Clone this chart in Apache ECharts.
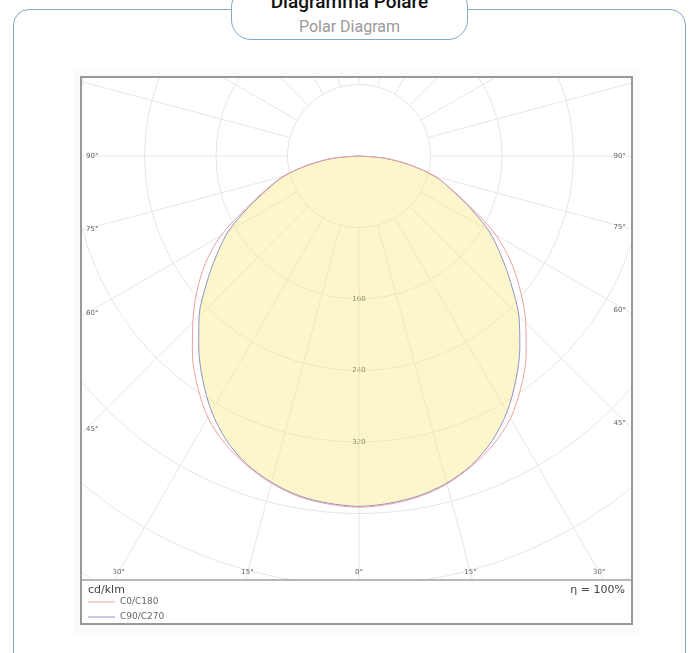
<!DOCTYPE html>
<html>
<head>
<meta charset="utf-8">
<title>Diagramma Polare</title>
<script src="https://cdn.jsdelivr.net/npm/echarts@6.0.0/dist/echarts.min.js"></script>
<style>
    html, body { margin: 0; padding: 0; background: #fff; }
    body { width: 698px; height: 653px; position: relative; overflow: hidden; font-family: Roboto, "Open Sans", sans-serif; }
    .card { position: absolute; left: 13px; top: 9px; width: 673px; height: 720px; border: 1.5px solid #84a9cb; border-radius: 16px; box-sizing: border-box; }
    .tab { position: absolute; left: 231px; top: -13px; width: 237px; height: 53px; border: 1.5px solid #84a9cb; border-radius: 20px; background: #fff; box-sizing: border-box; }
    .t1 { position: absolute; left: 231px; width: 237px; top: -8px; text-align: center; font-size: 19px; line-height: 19px; font-weight: 500; color: #111; }
    .t2 { position: absolute; left: 231px; width: 237px; top: 19px; text-align: center; font-size: 16px; line-height: 16px; color: #9a9a9a; }
    .halo { position: absolute; left: 74px; top: 68px; width: 566px; height: 566px; background: #fbfbfb; }
    .frame { position: absolute; left: 80px; top: 76px; width: 553px; height: 549px; border: 2px solid #999; box-sizing: border-box; background: #fff; }
    #polar { width: 549px; height: 545px; }
</style>
</head>
<body>
<div class="card"></div>
<div class="tab"></div>
<div class="t1">Diagramma Polare</div>
<div class="t2">Polar Diagram</div>
<div class="halo"></div>
<div class="frame"><div id="polar"></div></div>

<script>
const gammaAngles = [0, 5, 10, 15, 20, 25, 30, 35, 40, 45, 50, 55, 60, 65, 70, 75, 80, 85, 90];
const c0   = [393, 391, 387, 380, 369, 356, 339, 316, 291, 264, 236, 208, 177, 140, 111, 88, 58, 29, 0];
const c180 = [393, 391, 387, 379, 368, 355, 338, 315, 290, 263, 237, 210, 179, 140, 111, 88, 58, 29, 0];
const c90  = [392, 390, 386, 379, 368, 352, 331, 306, 280, 253, 222, 194, 168, 137, 110, 88, 58, 29, 0];
const c270 = [392, 390, 386, 378, 367, 351, 330, 305, 279, 253, 223, 195, 169, 137, 109, 87, 57, 29, 0];

const rayAngles = [0, 15, 30, 45, 60, 75, 90, 105, 120, 135, 150, 165, 180, 195, 210, 225, 240, 255, 270, 285, 300, 315, 330, 345];
const radiusLabels = [160, 240, 320];
const angleLabels = [0, 15, 30, 45, 60, 75, 90];

const seriesNames = ['C0/C180', 'C90/C270'];
const seriesColors = ['#eaa2a2', '#8e93c6'];

// semipiano sinistro (360 - gamma) + semipiano destro (gamma)
function buildCurve(left, right) {
    let out = [];
    for (let i = gammaAngles.length - 1; i > 0; i--) {
        out.push([left[i], 360 - gammaAngles[i]]);
    }
    for (let i = 0; i < gammaAngles.length; i++) {
        out.push([right[i], gammaAngles[i]]);
    }
    return out;
}

function renderRay(params, api) {
    let a = api.value(1);
    let p1 = api.coord([80, a]);
    let p2 = api.coord([640, a]);
    return {
        type: 'line',
        shape: { x1: p1[0], y1: p1[1], x2: p2[0], y2: p2[1] },
        style: { stroke: '#e6e6e6', lineWidth: 1 }
    };
}

// etichette degli angoli sul bordo del riquadro
function renderAngleLabel(params, api) {
    let a = api.value(1);
    let c = api.coord([0, a]);
    let p = api.coord([400, a]);
    let dx = p[0] - c[0], dy = p[1] - c[1];
    let len = Math.sqrt(dx * dx + dy * dy);
    dx /= len; dy /= len;

    let xMin = 4, xMax = api.getWidth() - 5, yMax = 494;
    let t = Infinity, align = 'center';
    if (dx < -1e-6) { let tx = (xMin - c[0]) / dx; if (tx < t) { t = tx; align = 'left'; } }
    if (dx > 1e-6)  { let tx = (xMax - c[0]) / dx; if (tx < t) { t = tx; align = 'right'; } }
    if (dy > 1e-6)  { let ty = (yMax - c[1]) / dy; if (ty < t) { t = ty; align = 'center'; } }

    return {
        type: 'text',
        x: c[0] + dx * t,
        y: c[1] + dy * t,
        style: {
            text: api.value(2) + '°',
            align: align,
            verticalAlign: 'middle',
            fontSize: 7,
            fontFamily: 'DejaVu Sans',
            fill: '#666'
        }
    };
}

document.addEventListener("DOMContentLoaded", function () {

    let el = document.getElementById('polar');
    let chart = echarts.init(el);

    let labelData = [];
    angleLabels.forEach(g => {
        labelData.push([0, g, g]);
        if (g !== 0) labelData.push([0, 360 - g, g]);
    });

    chart.setOption({
        animation: false,
        polar: { center: [277, 78], radius: 572 },
        angleAxis: {
            type: 'value', min: 0, max: 360, startAngle: 270, clockwise: false,
            axisLine: { show: false }, axisTick: { show: false },
            axisLabel: { show: false }, splitLine: { show: false }
        },
        radiusAxis: {
            type: 'value', min: 0, max: 640, interval: 80,
            axisLine: { show: false }, axisTick: { show: false },
            splitLine: { show: true, lineStyle: { color: '#e6e6e6', width: 1 } },
            axisLabel: {
                formatter: v => radiusLabels.includes(v) ? String(v) : '',
                margin: 0, align: 'center', verticalAlign: 'middle',
                fontSize: 7, fontFamily: 'DejaVu Sans', color: '#444'
            }
        },
        legend: {
            orient: 'vertical', left: 6, top: 519, bottom: 0, z: 110, padding: 0,
            icon: 'rect', itemWidth: 27, itemHeight: 1, itemGap: 5,
            textStyle: { fontSize: 9, lineHeight: 10, color: '#666', fontFamily: 'DejaVu Sans' },
            data: seriesNames
        },
        graphic: {
            elements: [
                { type: 'rect', z: 100, shape: { x: 0, y: 502, width: 549, height: 43 }, style: { fill: '#fff' } },
                { type: 'line', z: 101, shape: { x1: 0, y1: 502, x2: 549, y2: 502 }, style: { stroke: '#a0a0a0', lineWidth: 1.5 } },
                { type: 'text', z: 101, x: 6, y: 512, style: { text: 'cd/klm', fontSize: 11, fontFamily: 'DejaVu Sans', fill: '#444', verticalAlign: 'middle' } },
                { type: 'text', z: 101, x: 543, y: 512, style: { text: 'η = 100%', fontSize: 11, fontFamily: 'DejaVu Sans', fill: '#444', align: 'right', verticalAlign: 'middle' } }
            ]
        },
        series: [
            {
                type: 'custom', coordinateSystem: 'polar', z: 1, silent: true,
                data: rayAngles.map(a => [80, a]),
                renderItem: renderRay
            },
            {
                name: seriesNames[1], type: 'line', coordinateSystem: 'polar', z: 3,
                data: buildCurve(c270, c90),
                symbol: 'none', smooth: 0.3,
                lineStyle: { color: seriesColors[1], width: 1 },
                itemStyle: { color: seriesColors[1] },
                areaStyle: { color: 'rgba(252, 234, 130, 0.6)' }
            },
            {
                name: seriesNames[0], type: 'line', coordinateSystem: 'polar', z: 4,
                data: buildCurve(c180, c0),
                symbol: 'none', smooth: 0.3,
                lineStyle: { color: seriesColors[0], width: 1 },
                itemStyle: { color: seriesColors[0] }
            },
            {
                type: 'custom', coordinateSystem: 'polar', z: 5, silent: true,
                data: labelData,
                renderItem: renderAngleLabel
            }
        ]
    });

});
</script>
</body>
</html>
